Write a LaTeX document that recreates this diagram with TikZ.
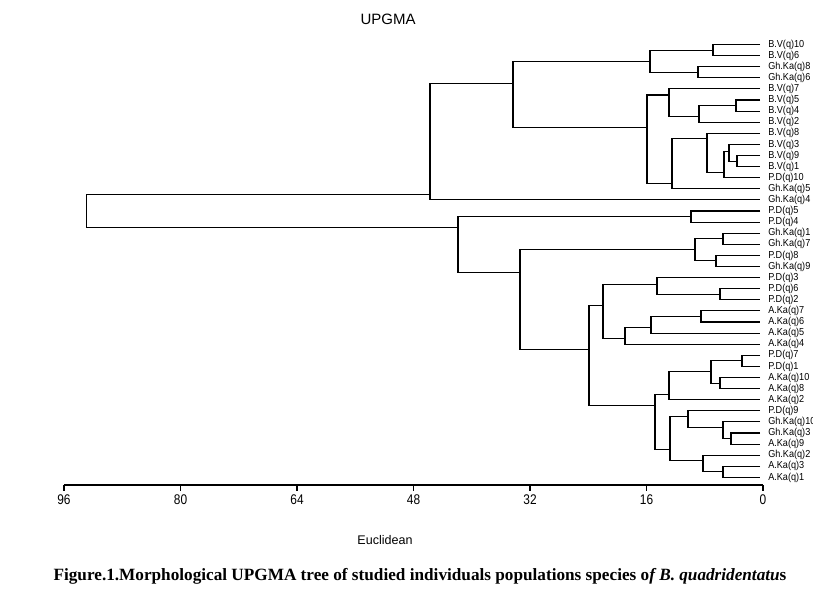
\documentclass[tikz,border=0pt]{standalone}
\usepackage{fontspec}
\setmainfont{Liberation Sans}
\newfontfamily\capfont{Liberation Serif}
\usepackage{graphicx}
\newcommand\cnd[1]{\scalebox{0.9}[1]{#1}}
\newcommand\mrg[5]{%
  \coordinate (#1) at (#2,#3);
  \draw[tree] (#4) -- (#4 -| #1) -- (#5 -| #1) -- (#5);
}
\begin{document}
\begin{tikzpicture}[x={(0.75pt,0)}, y={(0,-0.75pt)},
  tree/.style={line width=0.8pt, line join=miter},
  lab/.style={anchor=west, inner sep=0pt, font=\fontsize{7.6pt}{8pt}\selectfont},
  ticklab/.style={inner sep=0pt, font=\fontsize{10.5pt}{11pt}\selectfont}]
\useasboundingbox (0,0) rectangle (813,599);
\clip (0,0) rectangle (813,599);
\fill[white] (0,0) rectangle (813,599);
\node[font=\fontsize{11.25pt}{12pt}\selectfont] (title) at (388,19) {UPGMA};
\begin{scope}[y={(0,-8.325pt)}, yshift=-25.05pt]
\foreach \t [count=\i] in {B.V(q)10, B.V(q)6, Gh.Ka(q)8, Gh.Ka(q)6, B.V(q)7, B.V(q)5, B.V(q)4, B.V(q)2, B.V(q)8, B.V(q)3, B.V(q)9, B.V(q)1, P.D(q)10, Gh.Ka(q)5, Gh.Ka(q)4, P.D(q)5, P.D(q)4, Gh.Ka(q)1, Gh.Ka(q)7, P.D(q)8, Gh.Ka(q)9, P.D(q)3, P.D(q)6, P.D(q)2, A.Ka(q)7, A.Ka(q)6, A.Ka(q)5, A.Ka(q)4, P.D(q)7, P.D(q)1, A.Ka(q)10, A.Ka(q)8, A.Ka(q)2, P.D(q)9, Gh.Ka(q)10, Gh.Ka(q)3, A.Ka(q)9, Gh.Ka(q)2, A.Ka(q)3, A.Ka(q)1}{
  \coordinate (L\i) at (760,\i);
  \node[lab] (T\i) at (768,\i) {\cnd{\t}};
}
\mrg{A}{713}{1.5}{L1}{L2}
\mrg{B}{698}{3.5}{L3}{L4}
\mrg{C}{650}{2.5}{A}{B}
\mrg{D}{736}{6.5}{L6}{L7}
\mrg{E}{699}{7.5}{D}{L8}
\mrg{F}{669}{5.55}{L5}{E}
\mrg{G}{737}{11.5}{L11}{L12}
\mrg{H}{729}{10.6}{L10}{G}
\mrg{I}{724}{12.5}{H}{L13}
\mrg{J}{707}{9.5}{L9}{I}
\mrg{K}{672}{13.5}{J}{L14}
\mrg{M}{647}{8.5}{F}{K}
\mrg{N}{513}{4.5}{C}{M}
\mrg{O}{430}{14.5}{N}{L15}
\mrg{P}{691}{16.5}{L16}{L17}
\mrg{Q}{723}{18.5}{L18}{L19}
\mrg{R}{716}{20.5}{L20}{L21}
\mrg{S}{695}{19.5}{Q}{R}
\mrg{T}{720}{23.5}{L23}{L24}
\mrg{U}{657}{22.6}{L22}{T}
\mrg{V}{701}{25.5}{L25}{L26}
\mrg{W}{651}{26.5}{V}{L27}
\mrg{X}{625}{27.5}{W}{L28}
\mrg{Y}{603}{24.55}{U}{X}
\mrg{Z1}{742}{29.5}{L29}{L30}
\mrg{Z2}{720}{31.5}{L31}{L32}
\mrg{Z3}{711}{30.5}{Z1}{Z2}
\mrg{Z4}{669}{32.5}{Z3}{L33}
\mrg{Z5}{731}{36.5}{L36}{L37}
\mrg{Z6}{723}{35.5}{L35}{Z5}
\mrg{Z7}{688}{34.5}{L34}{Z6}
\mrg{Z8}{723}{39.5}{L39}{L40}
\mrg{Z9}{703}{38.5}{L38}{Z8}
\mrg{Z10}{670}{37.5}{Z7}{Z9}
\mrg{Z11}{655}{33.5}{Z4}{Z10}
\mrg{Z12}{589}{28.5}{Y}{Z11}
\mrg{Z13}{520}{21.5}{S}{Z12}
\mrg{Z14}{458}{17.5}{P}{Z13}
\mrg{R0}{86.5}{16}{O}{Z14}
\end{scope}
\coordinate (ax96) at (64,485);
\coordinate (ax0) at (763,485);
\draw[tree] (ax96) -- (ax0);
\foreach \v in {0,16,32,48,64,80,96}{
  \coordinate (tk\v) at ({763-\v*7.28125},485);
  \draw[tree] (tk\v) -- ++(0,5.5);
  \node[ticklab] (tl\v) at ({763-\v*7.28125},500) {\scalebox{0.85}[1]{\v}};
}
\node[font=\fontsize{9.4pt}{10pt}\selectfont] (xlab) at (385,540) {Euclidean};
\node[font=\capfont\bfseries\fontsize{12.9pt}{14pt}\selectfont] (caption) at (420,576.5)
  {Figure.1.Morphological UPGMA tree of studied individuals populations species o\textit{f B. quadridentatu}s};
\end{tikzpicture}
\end{document}
